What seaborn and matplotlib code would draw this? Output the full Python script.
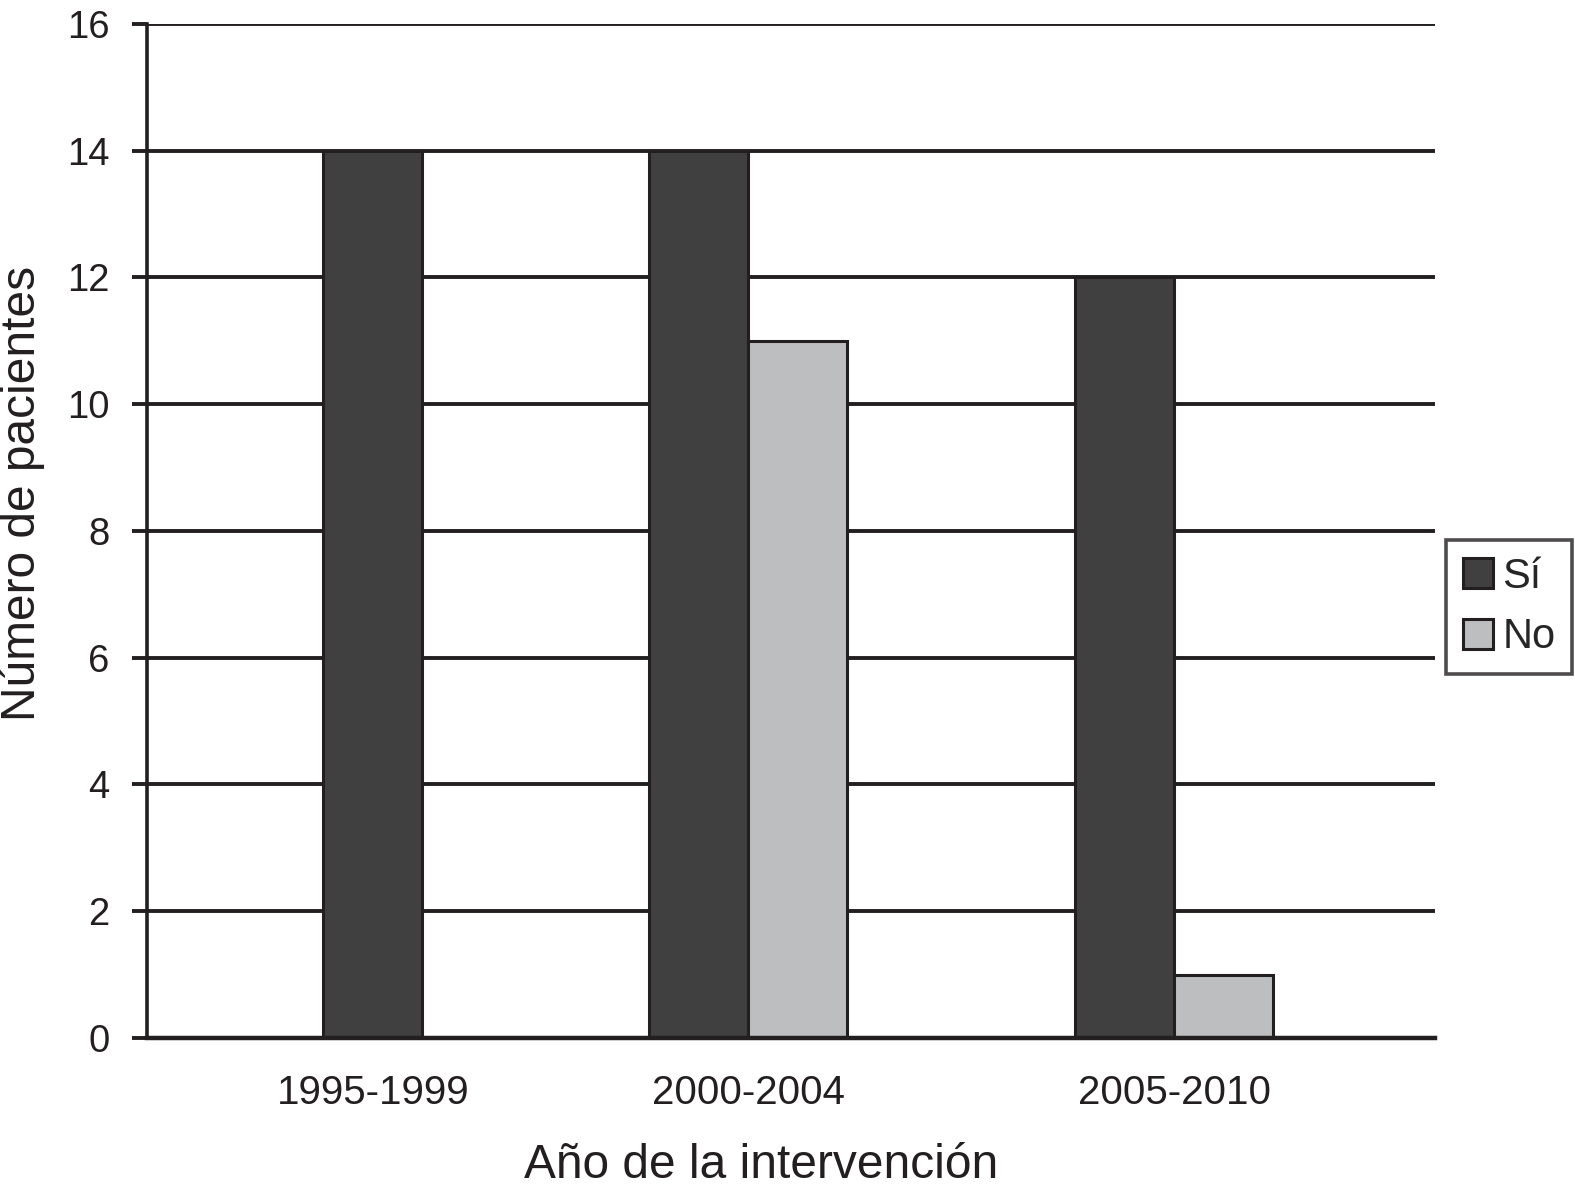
import matplotlib
matplotlib.use("Agg")
import matplotlib.pyplot as plt
import seaborn as sns
import pandas as pd

periods = ["1995-1999", "2000-2004", "2005-2010"]
si = [14, 14, 12]
no = [0, 11, 1]
series = ["Sí", "No"]
colors = {"Sí": "#404040", "No": "#bdbec0"}
yticks = [0, 2, 4, 6, 8, 10, 12, 14, 16]

# group centres along x, in bar-width units (the original spacing is uneven)
centers = [2.28, 6.07, 10.37]

rows = []
for i, p in enumerate(periods):
    vals = {"Sí": si[i], "No": no[i]}
    present = [s for s in series if vals[s] > 0]
    for k, s in enumerate(present):
        off = k - (len(present) - 1) / 2
        rows.append({"x": centers[i] + off, "valor": vals[s], "serie": s})
df = pd.DataFrame(rows)

sns.set_style("white")
plt.rcParams["font.family"] = ["Liberation Sans", "DejaVu Sans"]
ink = "#231f20"

fig = plt.figure(figsize=(15.75, 11.88), dpi=100)
ax = fig.add_axes([0.0933, 0.1263, 0.8178, 0.8535])
ax.set_axisbelow(True)

sns.barplot(data=df, x="x", y="valor", hue="serie", hue_order=series,
            palette=colors, native_scale=True, dodge=False, width=1.0,
            errorbar=None, edgecolor=ink, linewidth=2.2, ax=ax)

ax.set_xlim(0, 13)
ax.set_ylim(0, 16)
ax.set_yticks(yticks)
ax.set_xticks(centers)
ax.set_xticklabels(periods)
ax.yaxis.grid(True, color=ink, linewidth=2.8)
ax.xaxis.grid(False)

for side in ["top", "right"]:
    ax.spines[side].set_visible(False)
ax.spines["left"].set_color(ink)
ax.spines["left"].set_linewidth(2.6)
ax.spines["bottom"].set_color(ink)
ax.spines["bottom"].set_linewidth(3.2)

ax.tick_params(axis="y", length=11, width=2.8, color=ink, pad=16, labelsize=27.5, labelcolor=ink, left=True)
ax.tick_params(axis="x", length=0, pad=26, labelsize=29, labelcolor=ink)

ax.set_xlabel("Año de la intervención", fontsize=34.5, color=ink, labelpad=22, x=0.477)
ax.set_ylabel("Número de pacientes", fontsize=34.5, color=ink, labelpad=16, y=0.537)

handles, labels = ax.get_legend_handles_labels()
leg = ax.legend(handles, labels, loc="upper left", bbox_to_anchor=(0.918, 0.5455),
                bbox_transform=fig.transFigure, borderaxespad=0, fontsize=30,
                frameon=True, fancybox=False, handlelength=0.74, handleheight=0.74,
                handletextpad=0.22, labelspacing=0.5, borderpad=0.4)
leg.get_frame().set_edgecolor(ink)
leg.get_frame().set_linewidth(2.6)
for h in leg.legend_handles:
    h.set_edgecolor(ink)
    h.set_linewidth(2.2)

fig.savefig("out.png", dpi=100)
